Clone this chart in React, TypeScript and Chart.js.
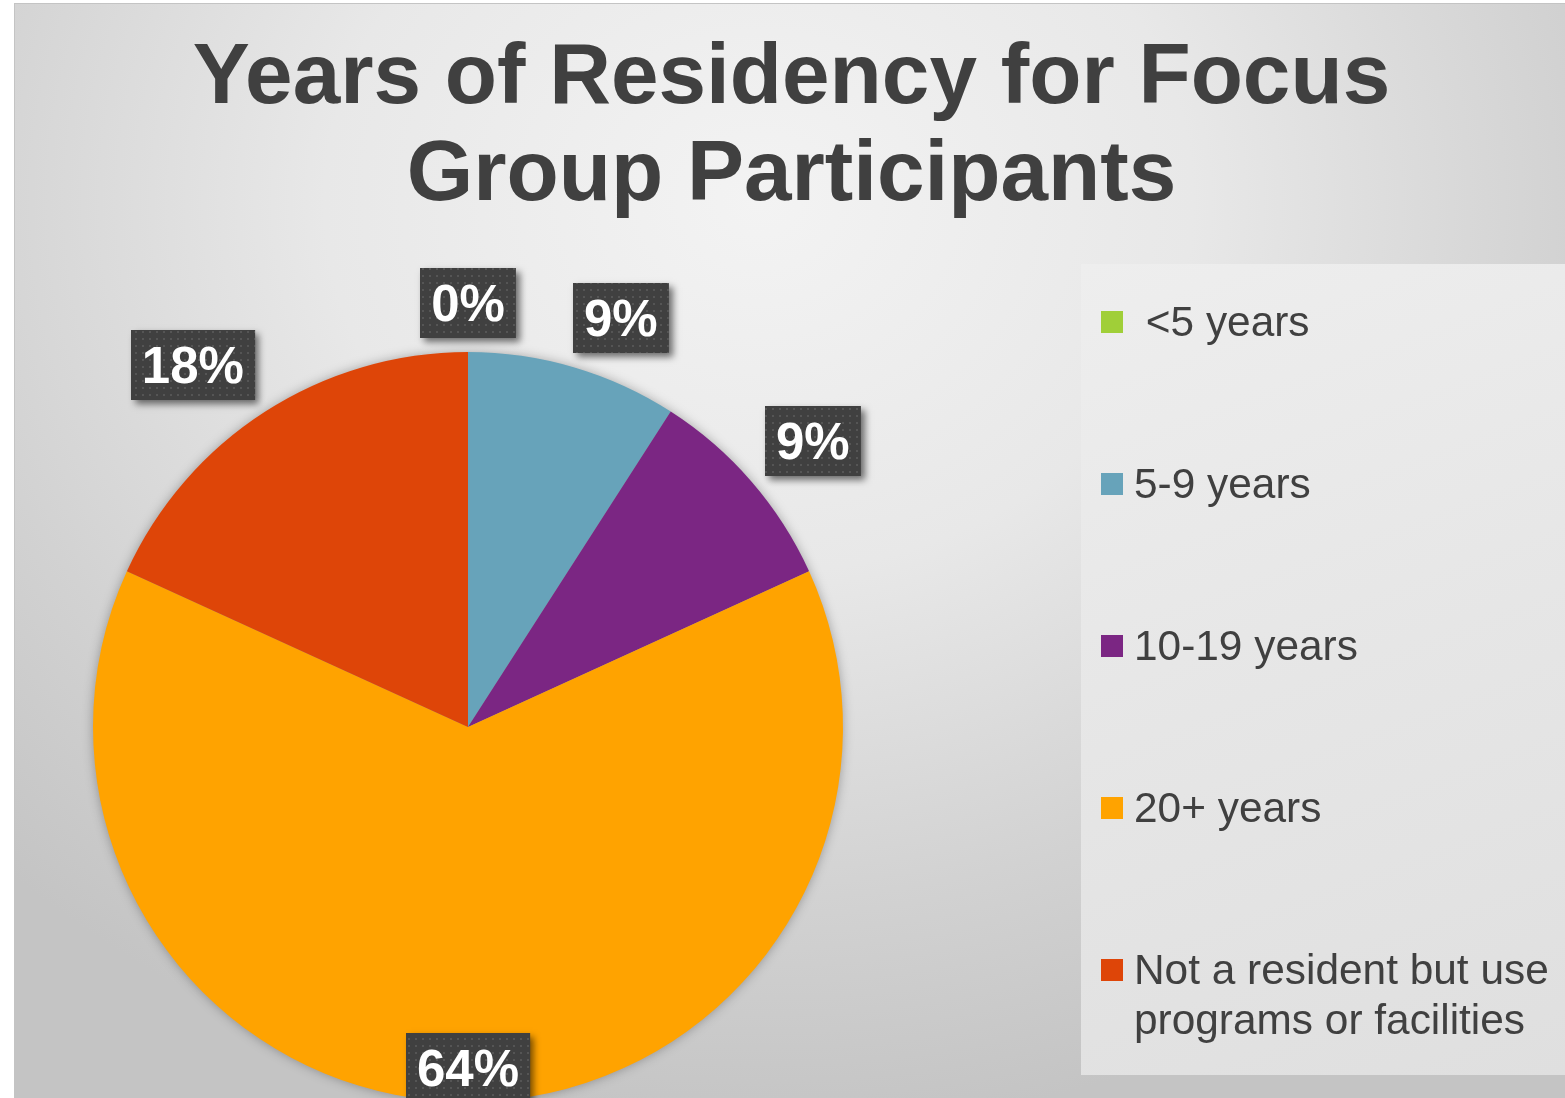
import React, { useEffect, useRef } from "react";
import { Chart, registerables } from "chart.js";

Chart.register(...registerables);

const titleLines = ["Years of Residency for Focus", "Group Participants"];
const categories = [" <5 years", "5-9 years", "10-19 years", "20+ years", "Not a resident but use programs or facilities"];
const counts = [0, 1, 1, 7, 2];
const sliceColors = ["#A0CF38", "#67A3BA", "#7B2683", "#FFA300", "#DE4508"];

// label placement (layout only): angle shift in degrees from slice mid-angle, radial factor of radius
const labelAngleShift = [0, 4.1, 1.2, 0, -4.5];
const labelRadial = [1.131, 1.165, 1.195, 0.91, 1.213];

const W = 1565;
const H = 1110;

function makeDotPattern(ctx: CanvasRenderingContext2D) {
  const c = document.createElement("canvas");
  c.width = 7;
  c.height = 7;
  const g = c.getContext("2d")!;
  g.fillStyle = "#404040";
  g.fillRect(0, 0, 7, 7);
  g.fillStyle = "#555555";
  g.fillRect(2, 2, 2, 2);
  return ctx.createPattern(c, "repeat");
}

const pieShadowPlugin = {
  id: "pieShadow",
  beforeDatasetsDraw(chart: any) {
    const meta = chart.getDatasetMeta(0);
    const arc = meta.data[0];
    if (!arc) return;
    const { x, y, outerRadius } = arc.getProps(["x", "y", "outerRadius"], true);
    const ctx = chart.ctx;
    ctx.save();
    ctx.shadowColor = "rgba(0,0,0,0.35)";
    ctx.shadowBlur = 12;
    ctx.fillStyle = "#999";
    ctx.beginPath();
    ctx.arc(x, y, outerRadius - 1, 0, Math.PI * 2);
    ctx.fill();
    ctx.restore();
  },
};

const boxLabelPlugin = {
  id: "boxLabels",
  afterDatasetsDraw(chart: any) {
    const ctx: CanvasRenderingContext2D = chart.ctx;
    const data = chart.data.datasets[0].data as number[];
    const total = data.reduce((a, b) => a + b, 0);
    const meta = chart.getDatasetMeta(0);
    const pattern = makeDotPattern(ctx);
    const fontSize = 51;
    ctx.save();
    ctx.font = `bold ${fontSize}px "Liberation Sans", Arial, sans-serif`;
    meta.data.forEach((arc: any, i: number) => {
      const { x, y, startAngle, endAngle, outerRadius } = arc.getProps(
        ["x", "y", "startAngle", "endAngle", "outerRadius"],
        true
      );
      const mid = (startAngle + endAngle) / 2 + (labelAngleShift[i] * Math.PI) / 180;
      const r = outerRadius * labelRadial[i];
      const cx = x + Math.cos(mid) * r;
      const cy = y + Math.sin(mid) * r;
      const text = Math.round((data[i] / total) * 100) + "%";
      const tw = ctx.measureText(text).width;
      const bw = tw + 22;
      const bh = 70;
      const bx = Math.round(cx - bw / 2);
      const by = Math.round(cy - bh / 2);
      ctx.save();
      ctx.shadowColor = "rgba(0,0,0,0.55)";
      ctx.shadowBlur = 7;
      ctx.shadowOffsetX = 4;
      ctx.shadowOffsetY = 4;
      ctx.fillStyle = "#404040";
      ctx.fillRect(bx, by, bw, bh);
      ctx.restore();
      if (pattern) {
        ctx.fillStyle = pattern;
        ctx.fillRect(bx, by, bw, bh);
      }
      ctx.fillStyle = "#ffffff";
      ctx.textAlign = "center";
      ctx.textBaseline = "alphabetic";
      ctx.fillText(text, cx, by + bh / 2 + fontSize * 0.358);
    });
    ctx.restore();
  },
};

export default function App() {
  const canvasRef = useRef<HTMLCanvasElement | null>(null);

  useEffect(() => {
    document.body.style.margin = "0";
    const canvas = canvasRef.current;
    if (!canvas) return;
    const chart = new Chart(canvas, {
      type: "pie",
      data: {
        labels: categories,
        datasets: [
          {
            data: counts,
            backgroundColor: sliceColors,
            borderWidth: 0,
          },
        ],
      },
      options: {
        responsive: false,
        animation: false,
        devicePixelRatio: 1,
        layout: { padding: { left: 93, top: 352, right: W - 843, bottom: H - 1102 } },
        plugins: {
          legend: { display: false },
          tooltip: { enabled: false },
          title: { display: false },
        },
      },
      plugins: [pieShadowPlugin, boxLabelPlugin],
    });
    return () => chart.destroy();
  }, []);

  const rowCenters = [322, 484, 646, 808, 970];

  return (
    <div
      style={{
        position: "fixed",
        left: 0,
        top: 0,
        width: W,
        height: 1098,
        overflow: "hidden",
        background: "#ffffff",
      }}
    >
      <div
        style={{
          position: "absolute",
          left: 14,
          top: 3,
          width: W - 14,
          height: 1098 - 3,
          borderTop: "1px solid #c4c4c4",
          borderLeft: "1px solid #c4c4c4",
          boxSizing: "border-box",
          background:
            "radial-gradient(ellipse 70% 85% at 48% 18%, #f3f3f3 0%, #e8e8e8 40%, #d2d2d2 75%, #c4c4c4 100%)",
        }}
      />
      <div
        style={{
          position: "absolute",
          left: 1081,
          top: 264,
          width: W - 1081,
          height: 1075 - 264,
          background: "linear-gradient(160deg, #eeeeee 0%, #e6e6e6 50%, #dfdfdf 100%)",
        }}
      />
      <div
        style={{
          position: "absolute",
          left: 0,
          top: 25,
          width: 1583,
          textAlign: "center",
          fontFamily: '"Liberation Sans", Arial, sans-serif',
          fontWeight: "bold",
          fontSize: 85.5,
          lineHeight: "97px",
          color: "#404040",
          whiteSpace: "nowrap",
        }}
      >
        {titleLines.map((t, i) => (
          <div key={i}>{t}</div>
        ))}
      </div>
      <canvas
        ref={canvasRef}
        width={W}
        height={H}
        style={{ position: "absolute", left: 0, top: 0, width: W, height: H }}
      />
      {categories.map((c, i) => (
        <div key={i}>
          <div
            style={{
              position: "absolute",
              left: 1101,
              top: rowCenters[i] - 11,
              width: 22,
              height: 22,
              background: sliceColors[i],
            }}
          />
          <div
            style={{
              position: "absolute",
              left: 1134,
              top: rowCenters[i] - 24.6,
              width: 425,
              fontFamily: '"Liberation Sans", Arial, sans-serif',
              fontSize: 42.4,
              lineHeight: "50px",
              color: "#404040",
              whiteSpace: "pre-wrap",
            }}
          >
            {c}
          </div>
        </div>
      ))}
    </div>
  );
}
